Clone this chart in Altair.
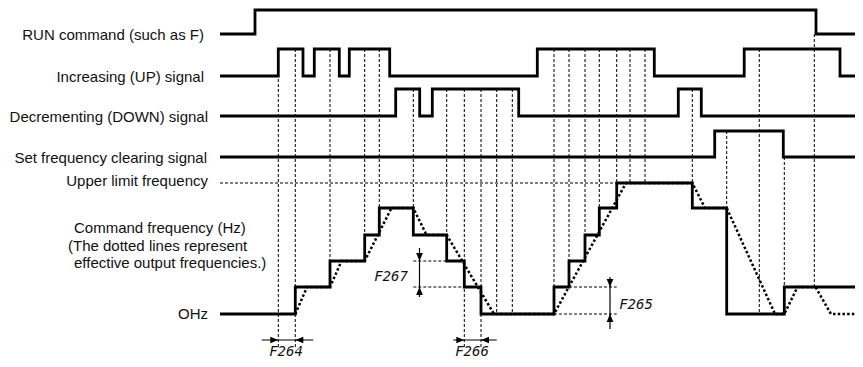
import altair as alt
import pandas as pd

# ---------------- data (time axis in diagram units) ----------------
T_START = 220
T_END = 862

RUN_EDGES = [255, 816]
UP_EDGES = [278.3, 303, 314.3, 339.3, 349.3, 389.7, 537.3, 654.3, 744.2, 840]
DOWN_EDGES = [395.7, 419.7, 432.3, 518.7, 678.3, 701.3]
CLEAR_EDGES = [714.7, 783.3]

# command frequency: step index (0 = 0 Hz ... 5 = upper limit) from each time on
CMD_TIMES = [220, 295.3, 330, 364.7, 379.3, 413.3, 446.7, 464.3, 481,
             554, 569, 585, 599.3, 616.7, 692.3, 726.7, 784.3]
CMD_STEPS = [0, 1, 2, 3, 4, 3, 2, 1, 0, 1, 2, 3, 4, 5, 4, 0, 1]

# effective output frequency (dotted) vertices
OUT_TIMES = [295.3, 307, 330, 341.5, 364.7, 391.5, 413.3, 426.5, 446.7, 494,
             554, 626, 692.3, 705, 726.7, 775, 784.3, 797.5, 815.5, 831, 862]
OUT_STEPS = [0, 1, 1, 2, 2, 4, 4, 3, 3, 0,
             0, 5, 5, 4, 4, 0, 0, 1, 1, 0, 0]

# vertical dotted timing guides
GUIDE_T = [278.3, 295.3, 330, 364.7, 379.3, 413.3, 446.7, 464.3, 481, 496.7, 512.3,
           554, 569, 585, 599.3, 616.7, 630, 645, 692.3, 726.7, 759.3, 784.3, 814.3]
GUIDE_FROM = ["UP", "UP", "UP", "UP", "UP", "DOWN", "DOWN", "DOWN", "DOWN", "DOWN", "DOWN",
              "UP", "UP", "UP", "UP", "UP", "UP", "UP", "DOWN", "CLEAR", "UP", "CLEARLOW", "RUNLOW"]
GUIDE_TO = ["ARROW", "ARROW", 2, 2, 3, 4, 3, "ARROW", "ARROW", 0, 0,
            0, 1, 2, 3, 4, 5, 5, 5, 4, 0, 0, 1]

# horizontal dotted reference lines (start, end, level)
HDOT_T1 = [220, 413.3, 413.3, 569, 554]
HDOT_T2 = [616.7, 446.7, 464.3, 616.7, 616.7]
HDOT_LEVEL = [5, 2, 1, 1, 0]

# parameter labels
PARAM_NAMES = ["F264", "F266", "F267", "F265"]

LEFT_LABELS = ["RUN command (such as F)", "Increasing (UP) signal",
               "Decrementing (DOWN) signal", "Set frequency clearing signal",
               "Upper limit frequency", "OHz"]
NOTE_LINES = ["Command frequency (Hz)", "(The dotted lines represent",
              "effective output frequencies.)"]

# ---------------- layout ----------------
ROW_LOW = {"RUN": 34, "UP": 76, "DOWN": 116, "CLEAR": 157}
ROW_HIGH = {"RUN": 10, "UP": 49, "DOWN": 89, "CLEAR": 131}
LEVEL_Y = [314, 287, 261, 235, 208, 183]
ARROW_Y = 340
ARROW_BOTTOM = 347


def step_points(name, edges):
    lo, hi = ROW_LOW[name], ROW_HIGH[name]
    pts = [(T_START, lo)]
    state = 0
    for e in edges:
        pts.append((e, hi if state else lo))
        state = 1 - state
        pts.append((e, hi if state else lo))
    pts.append((T_END, hi if state else lo))
    return [{"series": name, "i": i, "t": t, "y": y} for i, (t, y) in enumerate(pts)]


rows = []
rows += step_points("RUN", RUN_EDGES)
rows += step_points("UP", UP_EDGES)
rows += step_points("DOWN", DOWN_EDGES)
rows += step_points("CLEAR", CLEAR_EDGES)
cmd = [(CMD_TIMES[0], LEVEL_Y[CMD_STEPS[0]])]
for k in range(1, len(CMD_TIMES)):
    cmd.append((CMD_TIMES[k], LEVEL_Y[CMD_STEPS[k - 1]]))
    cmd.append((CMD_TIMES[k], LEVEL_Y[CMD_STEPS[k]]))
cmd.append((T_END, LEVEL_Y[CMD_STEPS[-1]]))
rows += [{"series": "CMD", "i": i, "t": t, "y": y} for i, (t, y) in enumerate(cmd)]
solid_df = pd.DataFrame(rows)

out_df = pd.DataFrame({"i": range(len(OUT_TIMES)), "t": OUT_TIMES,
                       "y": [LEVEL_Y[s] for s in OUT_STEPS]})


def guide_y(ref):
    if ref == "ARROW":
        return ARROW_BOTTOM
    if ref == "CLEARLOW":
        return ROW_LOW["CLEAR"]
    if ref == "RUNLOW":
        return ROW_LOW["RUN"]
    if isinstance(ref, str):
        return ROW_HIGH[ref]
    return LEVEL_Y[ref]


guide_df = pd.DataFrame({"t": GUIDE_T,
                         "y1": [guide_y(r) for r in GUIDE_FROM],
                         "y2": [guide_y(r) for r in GUIDE_TO]})
hdot_df = pd.DataFrame({"t1": HDOT_T1, "t2": HDOT_T2,
                        "y": [LEVEL_Y[l] for l in HDOT_LEVEL]})

# measurement lines for the parameters
meas_h = pd.DataFrame({"t1": [261.7, 453.3], "t2": [313.3, 496.7], "y": [ARROW_Y, ARROW_Y]})
meas_v = pd.DataFrame({"t": [419.5, 610],
                       "y1": [LEVEL_Y[2] - 13, LEVEL_Y[1] - 10],
                       "y2": [LEVEL_Y[1] + 10, LEVEL_Y[0] + 15]})
arrows = pd.DataFrame({
    "t": [278.3, 295.3, 464.3, 481, 419.5, 419.5, 610, 610],
    "y": [ARROW_Y, ARROW_Y, ARROW_Y, ARROW_Y, LEVEL_Y[2], LEVEL_Y[1], LEVEL_Y[1], LEVEL_Y[0]],
    "dir": ["right", "left", "right", "left", "down", "up", "down", "up"],
})

xs = alt.Scale(domain=[8, 855], nice=False, zero=False)
ys = alt.Scale(domain=[8, 359], nice=False, zero=False, reverse=True)
X = lambda f: alt.X(f, type="quantitative", scale=xs, axis=None)
Y = lambda f: alt.Y(f, type="quantitative", scale=ys, axis=None)

guides = alt.Chart(guide_df).mark_rule(color="#000", strokeWidth=1, strokeDash=[3, 2]).encode(
    x=X("t"), y=Y("y1"), y2="y2")
hdots = alt.Chart(hdot_df).mark_rule(color="#000", strokeWidth=1, strokeDash=[3, 2]).encode(
    x=X("t1"), x2="t2", y=Y("y"))
out_line = alt.Chart(out_df).mark_line(color="#000", strokeWidth=2.5, strokeDash=[2.5, 2.2]).encode(
    x=X("t"), y=Y("y"), order="i:Q")
solid = alt.Chart(solid_df).mark_line(color="#000", strokeWidth=2.8, strokeJoin="miter").encode(
    x=X("t"), y=Y("y"), detail="series:N", order="i:Q")
mh = alt.Chart(meas_h).mark_rule(color="#000", strokeWidth=1.2).encode(x=X("t1"), x2="t2", y=Y("y"))
mv = alt.Chart(meas_v).mark_rule(color="#000", strokeWidth=1.2).encode(x=X("t"), y=Y("y1"), y2="y2")
heads = alt.Chart(arrows).mark_point(filled=True, opacity=1, size=256, color="#000", strokeWidth=0).encode(
    x=X("t"), y=Y("y"),
    shape=alt.Shape("dir:N", legend=None, scale=alt.Scale(
        domain=["right", "left", "down", "up"],
        range=["M0,0L-1,-0.42L-1,0.42Z", "M0,0L1,-0.42L1,0.42Z",
               "M0,0L-0.42,-1L0.42,-1Z", "M0,0L-0.42,1L0.42,1Z"])))

left_df = pd.DataFrame({"text": LEFT_LABELS,
                        "t": [204, 204, 208, 207, 208, 208],
                        "y": [39.5, 82, 122, 162.5, 186, 319]})
left_txt = alt.Chart(left_df).mark_text(align="right", baseline="alphabetic", font="Liberation Sans",
                                        fontSize=15, color="#111").encode(
    x=X("t"), y=Y("y"), text="text:N")
note_df = pd.DataFrame({"text": NOTE_LINES, "t": [74, 68, 74], "y": [233.3, 250.8, 268.3]})
note_txt = alt.Chart(note_df).mark_text(align="left", baseline="alphabetic", font="Liberation Sans",
                                        fontSize=15, color="#111").encode(
    x=X("t"), y=Y("y"), text="text:N")
par_df = pd.DataFrame({"text": PARAM_NAMES, "t": [286, 472, 391, 636], "y": [355.5, 355.5, 280.5, 308.5]})
par_txt = alt.Chart(par_df).mark_text(align="center", baseline="alphabetic", font="DejaVu Sans Mono",
                                      fontStyle="italic", fontSize=14, color="#111").encode(
    x=X("t"), y=Y("y"), text="text:N")

chart = alt.layer(guides, hdots, out_line, solid, mh, mv, heads, left_txt, note_txt, par_txt).properties(
    width=847, height=351, autosize="none", padding=0
).configure_view(strokeWidth=0)

chart.save("out.html", embed_options={"renderer": "svg", "actions": False})
